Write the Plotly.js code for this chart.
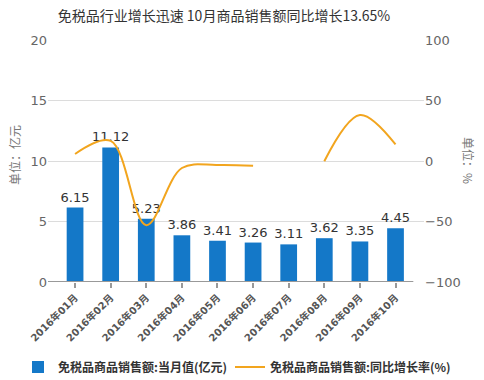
<!DOCTYPE html>
<html>
<head>
<meta charset="utf-8">
<script src="https://cdn.plot.ly/plotly-3.0.1.min.js"></script>
<style>html,body{margin:0;padding:0;background:#fff;}#chart{width:484px;height:380px;}</style>
</head>
<body>
<div id="chart"></div>
<script>
const categories = ['2016年01月','2016年02月','2016年03月','2016年04月','2016年05月','2016年06月','2016年07月','2016年08月','2016年09月','2016年10月'];
const monthlyValue = [6.15, 11.12, 5.23, 3.86, 3.41, 3.26, 3.11, 3.62, 3.35, 4.45];
const yoyGrowth = [5.8, 16.6, -53, -5.8, -3.3, -4.0, null, -0.2, 38, 13.65];
const barName = '免税品商品销售额:当月值(亿元)';
const lineName = '免税品商品销售额:同比增长率(%)';
const titleText = '免税品行业增长迅速 10月商品销售额同比增长13.65%';

const FONT = '"Noto Sans CJK SC", "DejaVu Sans", sans-serif';

const traces = [
  {
    type: 'bar', x: categories, y: monthlyValue, name: barName, legend: 'legend',
    marker: {color: '#1478C8'},
    text: monthlyValue.map(v => v.toFixed(2)),
    textposition: 'outside', cliponaxis: false, constraintext: 'none',
    textfont: {family: '"DejaVu Sans", sans-serif', size: 13, color: '#333'},
    hoverinfo: 'skip'
  },
  {
    type: 'scatter', mode: 'lines', x: categories, y: yoyGrowth, name: lineName, legend: 'legend2',
    yaxis: 'y2', connectgaps: false,
    line: {color: '#F2A51E', width: 2, shape: 'spline', smoothing: 1},
    hoverinfo: 'skip'
  }
];

const legendFont = {family: FONT, size: 12, color: '#333', weight: 'bold'};

const layout = {
  width: 484, height: 380,
  margin: {l: 48, r: 60, t: 40, b: 98, autoexpand: false},
  paper_bgcolor: '#fff', plot_bgcolor: '#fff',
  bargap: 0.53,
  showlegend: true,
  title: {text: titleText, x: 224/484, xref: 'container', xanchor: 'center', y: 1 - 16/380, yref: 'container', yanchor: 'middle',
          font: {family: FONT, size: 14, color: '#333'}},
  xaxis: {
    type: 'category', range: [-0.76, 9.8], tickangle: -45,
    showgrid: false, zeroline: false, showline: false,
    ticks: 'outside', ticklen: 5, tickwidth: 2, tickcolor: '#999',
    tickfont: {family: '"DejaVu Sans", "Noto Sans CJK SC", sans-serif', size: 10, color: '#555', weight: 'bold'}
  },
  yaxis: {
    range: [0, 20], dtick: 5, showgrid: true, gridcolor: '#dcdcdc', gridwidth: 1,
    zeroline: false, showline: false, ticks: '',
    tickfont: {family: '"DejaVu Sans", sans-serif', size: 13, color: '#666'}
  },
  yaxis2: {
    range: [-100, 100], dtick: 50, overlaying: 'y', side: 'right', showgrid: false,
    zeroline: false, showline: false, ticks: '',
    tickfont: {family: '"DejaVu Sans", sans-serif', size: 13, color: '#666'}
  },
  shapes: [
    {type: 'line', xref: 'x', yref: 'y', x0: -0.76, x1: 9.5, y0: 0, y1: 0, line: {color: '#999', width: 2}, layer: 'above'}
  ],
  annotations: [
    {text: '单位：亿元', xref: 'paper', yref: 'paper', x: (14-48)/376, y: 1 - (155-40)/242, textangle: -90,
     showarrow: false, xanchor: 'center', yanchor: 'middle', font: {family: FONT, size: 12, color: '#777'}},
    {text: '单位：%', xref: 'paper', yref: 'paper', x: (469-48)/376, y: 1 - (160-40)/242, textangle: 90,
     showarrow: false, xanchor: 'center', yanchor: 'middle', font: {family: FONT, size: 12, color: '#777'}}
  ],
  legend: {
    orientation: 'h', xref: 'paper', yref: 'paper', x: (18-48)/376, y: -(367-282)/242,
    xanchor: 'left', yanchor: 'middle', font: legendFont
  },
  legend2: {
    orientation: 'h', xref: 'paper', yref: 'paper', x: (230-48)/376, y: -(367-282)/242,
    xanchor: 'left', yanchor: 'middle', font: legendFont
  }
};

Plotly.newPlot('chart', traces, layout, {displayModeBar: false, staticPlot: true});
</script>
</body>
</html>
